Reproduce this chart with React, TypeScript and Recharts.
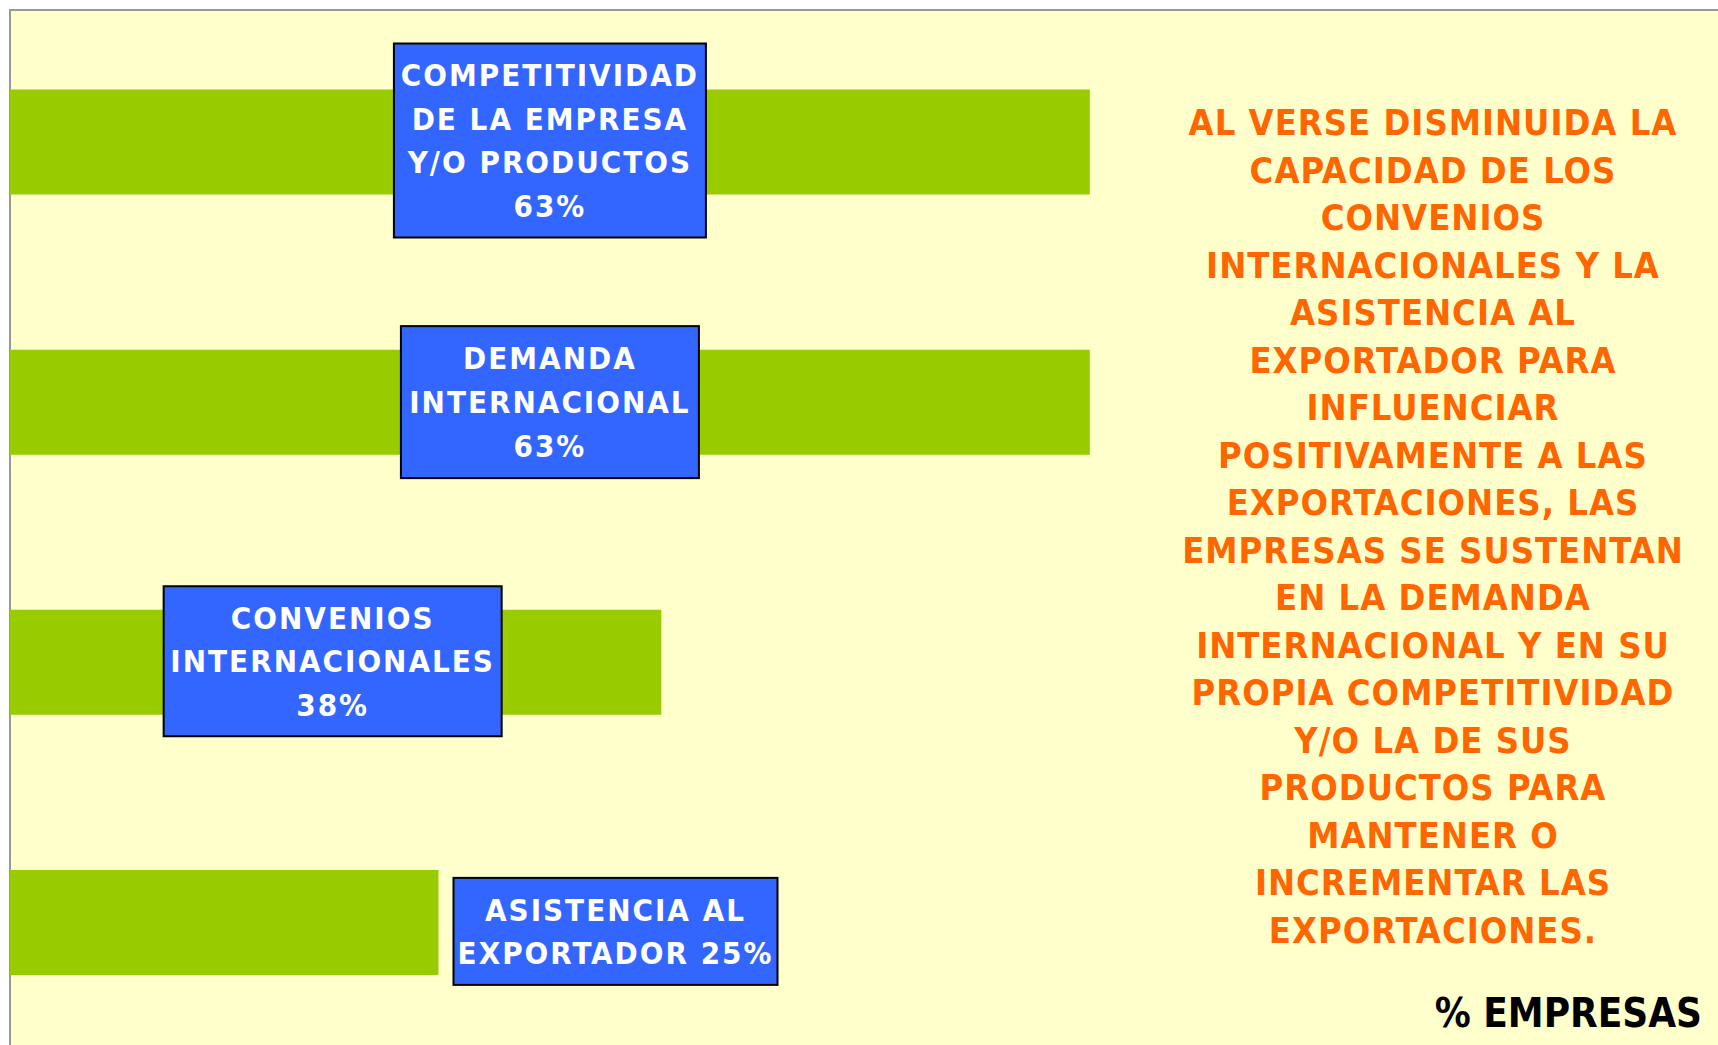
import React from 'react';
import { BarChart, Bar, XAxis, YAxis, LabelList } from 'recharts';

const categories = ['COMPETITIVIDAD DE LA EMPRESA Y/O PRODUCTOS', 'DEMANDA INTERNACIONAL', 'CONVENIOS INTERNACIONALES', 'ASISTENCIA AL EXPORTADOR'];
const values = [63, 63, 38, 25];
const categoryLines = [
    ['COMPETITIVIDAD', 'DE LA EMPRESA', 'Y/O PRODUCTOS'],
    ['DEMANDA', 'INTERNACIONAL'],
    ['CONVENIOS', 'INTERNACIONALES'],
    ['ASISTENCIA AL', 'EXPORTADOR'],
];
const noteLines = [
    'AL VERSE DISMINUIDA LA', 'CAPACIDAD DE LOS', 'CONVENIOS', 'INTERNACIONALES Y LA',
    'ASISTENCIA AL', 'EXPORTADOR PARA', 'INFLUENCIAR', 'POSITIVAMENTE A LAS',
    'EXPORTACIONES, LAS', 'EMPRESAS SE SUSTENTAN', 'EN LA DEMANDA', 'INTERNACIONAL Y EN SU',
    'PROPIA COMPETITIVIDAD', 'Y/O LA DE SUS', 'PRODUCTOS PARA', 'MANTENER O',
    'INCREMENTAR LAS', 'EXPORTACIONES.',
];
const axisTitle = '% EMPRESAS';

const data = categories.map((c, i) => ({ name: c, value: values[i] }));

// label box geometry (style, not data)
const BOXES = [
    { w: 312, h: 194, dx: 0, dy: -1.5, outside: false, inline: false },
    { w: 298, h: 152, dx: 0, dy: 0, outside: false, inline: false },
    { w: 338, h: 150, dx: -3, dy: -1, outside: false, inline: false },
    { w: 324, h: 107, dx: 0, dy: 9, outside: true, inline: true },
];
const FONT = '"DejaVu Sans Condensed", "DejaVu Sans", sans-serif';
const LINE_H = 43.7;

const BoxLabel = (props: any) => {
    const { x, y, width, height, index, value } = props;
    const box = BOXES[index];
    const lines = [...categoryLines[index]];
    if (box.inline) lines[lines.length - 1] += ` ${value}%`;
    else lines.push(`${value}%`);
    const cy = y + height / 2 + box.dy;
    const cx = (box.outside ? x + width + 15 + box.w / 2 : x + width / 2) + box.dx;
    const n = lines.length;
    return (
        <g>
            <rect x={cx - box.w / 2} y={cy - box.h / 2} width={box.w} height={box.h} fill="#3366FF" stroke="#000" strokeWidth={2} />
            {lines.map((l, i) => (
                <text key={i} x={cx} y={cy + (i - (n - 1) / 2) * LINE_H + 11} textAnchor="middle"
                    fill="#fff" fontFamily={FONT} fontWeight="bold" fontSize={31} letterSpacing={2}>
                    {l}
                </text>
            ))}
        </g>
    );
};

export default function App() {
    return (
        <div style={{ position: 'fixed', left: 0, top: 0, width: 1718, height: 1045, overflow: 'hidden', background: '#fff' }}>
            {/* plot background + border */}
            <div style={{ position: 'absolute', left: 9, top: 9, width: 1800, height: 1100, background: '#FFFFCC', borderTop: '2px solid #999', borderLeft: '2px solid #999' }} />
            <div style={{ position: 'absolute', left: 0, top: 0 }}>
                <BarChart width={1730} height={1052} data={data} layout="vertical" margin={{ top: 11.5, left: 10, right: 6, bottom: 0 }}>
                    <XAxis type="number" domain={[0, 100]} hide />
                    <YAxis type="category" dataKey="name" hide />
                    <Bar dataKey="value" fill="#99CC00" barSize={105} isAnimationActive={false}>
                        <LabelList dataKey="value" content={<BoxLabel />} />
                    </Bar>
                </BarChart>
            </div>
            <div style={{ position: 'absolute', left: 1133, width: 600, top: 99, textAlign: 'center', color: '#FF6600', fontFamily: FONT, fontWeight: 'bold', fontSize: 36, lineHeight: '47.5px', letterSpacing: 1, whiteSpace: 'nowrap' }}>
                {noteLines.map((l, i) => <div key={i}>{l}</div>)}
            </div>
            <div style={{ position: 'absolute', right: 16, top: 990, color: '#000', fontFamily: FONT, fontWeight: 'bold', fontSize: 40, whiteSpace: 'nowrap' }}>
                {axisTitle}
            </div>
        </div>
    );
}
